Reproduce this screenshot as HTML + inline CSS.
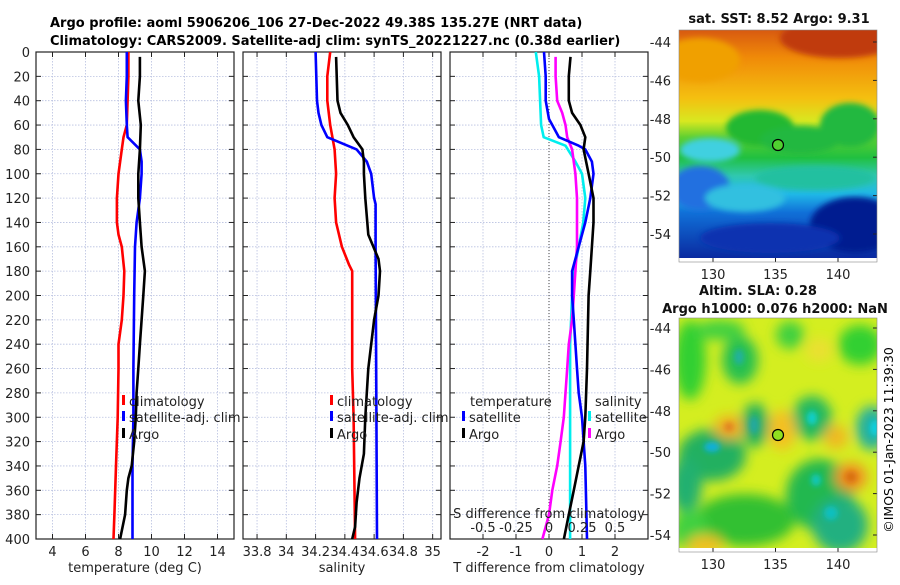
<!DOCTYPE html>
<html><head><meta charset="utf-8"><style>
body{margin:0;background:#fff;width:900px;height:580px;overflow:hidden}
svg{font-family:"DejaVu Sans","Liberation Sans",sans-serif}
</style></head><body>
<svg id="fig" width="900" height="580" xmlns="http://www.w3.org/2000/svg">
<defs>
<filter id="blur6" x="-50%" y="-50%" width="200%" height="200%"><feGaussianBlur stdDeviation="6"/></filter>
<filter id="blur3"><feGaussianBlur stdDeviation="3"/></filter>
<clipPath id="clipTop"><rect x="679" y="30" width="198" height="228"/></clipPath>
<clipPath id="clipBot"><rect x="679" y="318" width="198" height="230"/></clipPath>
<linearGradient id="sstGrad" x1="0" y1="0" x2="0" y2="1">
<stop offset="0" stop-color="#d85a10"/><stop offset="0.12" stop-color="#f08a08"/>
<stop offset="0.3" stop-color="#f4c010"/><stop offset="0.4" stop-color="#d8e820"/>
<stop offset="0.47" stop-color="#60d030"/><stop offset="0.56" stop-color="#20c040"/>
<stop offset="0.64" stop-color="#30c8b0"/><stop offset="0.72" stop-color="#20b8e8"/>
<stop offset="0.8" stop-color="#1070d8"/><stop offset="1" stop-color="#0a2aa0"/>
</linearGradient>
</defs>
<text x="50" y="27" font-size="13" font-weight="bold">Argo profile: aoml 5906206_106 27-Dec-2022 49.38S 135.27E (NRT data)</text>
<text x="50" y="45" font-size="13" font-weight="bold">Climatology: CARS2009. Satellite-adj clim: synTS_20221227.nc (0.38d earlier)</text>
<g id="plots"></g>
<g id="maps"></g>
<text transform="translate(893,440) rotate(-90)" text-anchor="middle" font-size="12.5">©IMOS 01-Jan-2023 11:39:30</text>
</svg>
<script>
// ---- data (depth in dbar) ----
const depthTicks = [0,20,40,60,80,100,120,140,160,180,200,220,240,260,280,300,320,340,360,380,400];
const tempTicks = [4,6,8,10,12,14];
const salTicks = [33.8,34,34.2,34.4,34.6,34.8,35];
const salTickLabels = ["33.8","34","34.2","34.4","34.6","34.8","35"];
const tdiffTicks = [-2,-1,0,1,2];
const sdiffTicks = [-0.5,-0.25,0,0.25,0.5];
const sdiffTickLabels = ["-0.5","-0.25","0","0.25","0.5"];

const tClimDepth = [0,20,40,60,70,80,100,120,140,150,160,180,200,220,240,260,300,340,380,400];
const tClimVal   = [8.6,8.6,8.55,8.5,8.3,8.2,8.0,7.9,7.9,8.0,8.2,8.35,8.3,8.2,8.0,8.0,7.95,7.85,7.75,7.7];
const tSatDepth = [0,20,40,60,70,80,90,100,120,140,160,200,260,300,340,400];
const tSatVal   = [8.5,8.5,8.45,8.5,8.55,9.3,9.4,9.4,9.3,9.1,9.0,8.95,8.9,8.9,8.85,8.85];
const tArgoDepth = [4,20,40,60,80,100,120,140,160,180,200,220,240,260,280,300,320,340,350,360,380,400];
const tArgoVal   = [9.3,9.3,9.2,9.35,9.3,9.2,9.2,9.3,9.4,9.6,9.5,9.4,9.3,9.2,9.1,9.05,8.95,8.8,8.6,8.5,8.4,8.1];

const sClimDepth = [0,20,40,60,80,100,120,140,160,175,180,220,260,300,400];
const sClimVal   = [34.3,34.28,34.28,34.3,34.33,34.34,34.33,34.34,34.38,34.43,34.45,34.45,34.45,34.46,34.47];
const sSatDepth = [0,40,50,60,70,80,90,100,120,125,160,400];
const sSatVal   = [34.2,34.21,34.22,34.24,34.28,34.48,34.55,34.58,34.6,34.61,34.61,34.62];
const sArgoDepth = [4,40,50,60,70,80,90,100,120,150,170,180,200,220,240,260,280,300,330,350,370,390,400];
const sArgoVal   = [34.34,34.35,34.37,34.42,34.46,34.52,34.53,34.53,34.54,34.56,34.63,34.64,34.63,34.6,34.58,34.56,34.55,34.54,34.53,34.5,34.48,34.47,34.45];

const dtSatDepth = [0,20,40,55,60,70,77,80,90,100,120,140,160,180,200,220,240,260,280,300,340,400];
const dtSatVal   = [-0.15,-0.1,-0.1,0,0.1,0.3,0.9,1.1,1.3,1.35,1.25,1.1,0.9,0.7,0.7,0.75,0.8,0.85,0.9,1.0,1.1,1.15];
const dtArgoDepth = [4,20,40,50,60,70,80,100,120,140,160,180,200,260,300,320,340,360,380,400];
const dtArgoVal   = [0.65,0.6,0.6,0.7,0.95,1.1,1.05,1.2,1.35,1.35,1.3,1.25,1.2,1.15,1.1,1.05,0.9,0.75,0.6,0.45];
const dsSatDepth = [0,20,60,70,77,90,100,120,140,160,180,200,240,400];
const dsSatVal   = [-0.1,-0.075,-0.06,-0.04,0.125,0.2,0.25,0.275,0.26,0.225,0.19,0.175,0.16,0.16];
const dsArgoDepth = [4,20,40,50,60,70,80,100,120,140,160,180,200,220,240,260,280,300,320,340,360,380,400];
const dsArgoVal   = [0.05,0.05,0.062,0.1,0.125,0.138,0.175,0.2,0.212,0.212,0.212,0.2,0.188,0.175,0.15,0.138,0.125,0.112,0.088,0.062,0.025,0,-0.05];

const NS="http://www.w3.org/2000/svg";
const plots=document.getElementById('plots');
function el(tag,attrs,parent,text){const e=document.createElementNS(NS,tag);for(const k in attrs)e.setAttribute(k,attrs[k]);if(text!==undefined)e.textContent=text;(parent||plots).appendChild(e);return e;}
const TOP=52,BOT=539;
const yD=d=>TOP+(d/400)*(BOT-TOP);

function panel(name,x0,x1,xmin,xmax,ticks,labels,xlabel,showDepth){
  const g=el('g',{});
  
  
  const xf=v=>x0+(v-xmin)/(xmax-xmin)*(x1-x0);
  depthTicks.forEach(d=>{
    const l=el('line',{x1:x0,x2:x1,y1:yD(d),y2:yD(d),stroke:'#b8c0e0','stroke-width':0.8,'stroke-dasharray':'1.5,1.5'},g);
    
    
    el('line',{x1:x0,x2:x0+5,y1:yD(d),y2:yD(d),stroke:'#222'},g);
    el('line',{x1:x1-5,x2:x1,y1:yD(d),y2:yD(d),stroke:'#222'},g);
    if(showDepth){const t=el('text',{x:30,y:yD(d)+5,'text-anchor':'end','font-size':13,fill:'#222'},g,String(d));
      
      }
  });
  ticks.forEach((v,i)=>{
    el('line',{x1:xf(v),x2:xf(v),y1:TOP,y2:BOT,stroke:'#b8c0e0','stroke-width':0.8,'stroke-dasharray':'1.5,1.5'},g);
    el('line',{x1:xf(v),x2:xf(v),y1:BOT-5,y2:BOT,stroke:'#222'},g);
    el('line',{x1:xf(v),x2:xf(v),y1:TOP,y2:TOP+5,stroke:'#222'},g);
    const t=el('text',{x:xf(v),y:BOT+17,'text-anchor':'middle','font-size':13,fill:'#222'},g,labels?labels[i]:String(v));
    
    
  });
  el('rect',{x:x0,y:TOP,width:x1-x0,height:BOT-TOP,fill:'none',stroke:'#222','stroke-width':1.2},g);
  const xt=el('text',{x:(x0+x1)/2,y:BOT+33,'text-anchor':'middle','font-size':13,fill:'#222'},g,xlabel);
  
  
  return {g,xf};
}
function line(p,depths,vals,color,name,scale){
  const pts=depths.map((d,i)=>p.xf(vals[i]*(scale||1)).toFixed(1)+','+yD(d).toFixed(1)).join(' ');
  const pl=el('polyline',{points:pts,fill:'none',stroke:color,'stroke-width':2.6,'stroke-linejoin':'round'},p.g);
  
  
}
function legItem(g,x,y,color,label,name){
  el('rect',{x:x,y:y-11,width:3,height:10,fill:color},g);
  const t=el('text',{x:x+7,y:y,'font-size':13,fill:'#222'},g,label);
  
  
}

const p1=panel('temperature',36,234,3,15,tempTicks,null,'temperature (deg C)',true);
line(p1,tClimDepth,tClimVal,'#f00','temp-climatology-line');
line(p1,tSatDepth,tSatVal,'#00f','temp-satellite-line');
line(p1,tArgoDepth,tArgoVal,'#000','temp-argo-line');
legItem(p1.g,122,406,'#f00','climatology','legend-climatology');
legItem(p1.g,122,422,'#00f','satellite-adj. clim','legend-satellite');
legItem(p1.g,122,439,'#000','Argo','legend-argo');

const p2=panel('salinity',243,441,33.704,35.057,salTicks,salTickLabels,'salinity',false);
line(p2,sClimDepth,sClimVal,'#f00','sal-climatology-line');
line(p2,sSatDepth,sSatVal,'#00f','sal-satellite-line');
line(p2,sArgoDepth,sArgoVal,'#000','sal-argo-line');
legItem(p2.g,330,406,'#f00','climatology','legend-climatology');
legItem(p2.g,330,422,'#00f','satellite-adj. clim','legend-satellite');
legItem(p2.g,330,439,'#000','Argo','legend-argo');

const p3=panel('difference',450,648,-3,3,tdiffTicks,null,'T difference from climatology',false);
el('line',{x1:p3.xf(0),x2:p3.xf(0),y1:TOP,y2:BOT,stroke:'#444','stroke-dasharray':'1,2'},p3.g);
line(p3,dsSatDepth,dsSatVal,'#0ee','sdiff-satellite-line',4);
line(p3,dsArgoDepth,dsArgoVal,'#f0f','sdiff-argo-line',4);
line(p3,dtSatDepth,dtSatVal,'#00f','tdiff-satellite-line');
line(p3,dtArgoDepth,dtArgoVal,'#000','tdiff-argo-line');
el('text',{x:470,y:406,'font-size':13,fill:'#222'},p3.g,'temperature');
legItem(p3.g,462,422,'#00f','satellite','legend-t-satellite');
legItem(p3.g,462,439,'#000','Argo','legend-t-argo');
el('text',{x:595,y:406,'font-size':13,fill:'#222'},p3.g,'salinity');
legItem(p3.g,588,422,'#0ee','satellite','legend-s-satellite');
legItem(p3.g,588,439,'#f0f','Argo','legend-s-argo');
const st=el('text',{x:549,y:518,'text-anchor':'middle','font-size':13,fill:'#222'},p3.g,'S difference from climatology');


sdiffTicks.forEach((v,i)=>{
  const t=el('text',{x:p3.xf(v*4),y:532,'text-anchor':'middle','font-size':13,fill:'#222'},p3.g,sdiffTickLabels[i]);
  
  
});

// ---- maps ----
const maps=document.getElementById('maps');
const latTicks=[-44,-46,-48,-50,-52,-54];
const lonTicks=[130,135,140];
const lonX=v=>713+(v-130)*12.5;
function mapAxes(name,x0,y0,w,h,latY,titleLines,labelY){
  const g=el('g',{},maps);
  
  
  latTicks.forEach(l=>{const y=latY(l);
    el('line',{x1:x0+w-4,x2:x0+w,y1:y,y2:y,stroke:'#222'},g);
    el('text',{x:x0-8,y:y+5,'text-anchor':'end','font-size':13,fill:'#222'},g,String(l));});
  lonTicks.forEach(v=>{
    el('line',{x1:lonX(v),x2:lonX(v),y1:y0+h-4,y2:y0+h,stroke:'#222'},g);
    el('text',{x:lonX(v),y:labelY,'text-anchor':'middle','font-size':13,fill:'#222'},g,String(v));});
  el('rect',{x:x0,y:y0,width:w,height:h,fill:'none',stroke:'#888','stroke-width':0.6},g);
  titleLines.forEach(t=>el('text',{x:t[1],y:t[2],'text-anchor':'middle','font-size':13,'font-weight':'bold',fill:'#111'},g,t[0]));
  return g;
}
// SST map
const gs=el('g',{'clip-path':'url(#clipTop)'},maps);


el('rect',{x:679,y:30,width:198,height:228,fill:'url(#sstGrad)'},gs);
const fb=el('g',{filter:'url(#blur3)'},gs);
[[840,38,60,20,'#c03a10'],[700,60,40,22,'#f0a000'],[760,128,34,18,'#20b830'],[850,125,30,22,'#20b840'],[800,140,40,14,'#20b840'],
 [710,150,30,12,'#40d0e0'],[815,178,60,12,'#20c0a0'],[700,188,30,22,'#2070e0'],[745,198,40,14,'#30c0e0'],[855,225,45,28,'#001c90'],[770,238,70,15,'#0830b0']]
 .forEach(b=>el('ellipse',{cx:b[0],cy:b[1],rx:b[2],ry:b[3],fill:b[4]},fb));
el('rect',{x:679,y:258,width:198,height:4,fill:'#fff'},maps);
el('circle',{cx:778,cy:145,r:5.5,fill:'#50d030',stroke:'#000','stroke-width':1.2},maps);
mapAxes('sst-map',679,30,198,232,l=>42+(-44-l)*19.2,[['sat. SST: 8.52 Argo: 9.31',779,23]],279);

// SLA map
const gb=el('g',{'clip-path':'url(#clipBot)'},maps);


el('rect',{x:679,y:318,width:198,height:232,fill:'#d4ee20'},gb);
const fb2=el('g',{filter:'url(#blur6)'},gb);
[[690,360,16,40,'#30d030'],[790,335,14,14,'#40d040'],[860,345,22,20,'#30d030'],[740,360,18,24,'#28c050'],[720,330,25,10,'#40d040'],
 [755,425,14,22,'#20b060'],[812,418,20,22,'#20b860'],[872,428,16,22,'#20b0a0'],[712,455,34,26,'#20b060'],
 [686,485,16,28,'#20b070'],[820,495,34,36,'#20b850'],[745,520,50,26,'#30c030'],[840,525,28,28,'#20b080'],[690,530,18,20,'#40d040'],
 [729,427,15,12,'#f0b020'],[782,430,14,20,'#f4c020'],[851,477,16,14,'#f09020'],[836,437,12,12,'#f0b820'],
 [819,350,14,12,'#eae030'],[705,545,18,10,'#f0c020']].forEach(b=>el('ellipse',{cx:b[0],cy:b[1],rx:b[2],ry:b[3],fill:b[4]},fb2));
const fb3=el('g',{filter:'url(#blur3)'},gb);
[[739,357,5,8,'#20b0a0'],[754,425,5,9,'#20a8a0'],[812,418,5,7,'#10d0d0'],[875,428,5,8,'#10d0e0'],[712,447,8,5,'#10b0e0'],
 [816,480,5,6,'#10c8c0'],[831,513,7,7,'#10c0c0'],[729,427,5,5,'#e08020'],[851,477,6,6,'#d87010']]
 .forEach(b=>el('ellipse',{cx:b[0],cy:b[1],rx:b[2],ry:b[3],fill:b[4]},fb3));
el('rect',{x:679,y:548,width:198,height:4,fill:'#fff'},maps);
el('circle',{cx:778,cy:435,r:5.5,fill:'#90e020',stroke:'#000','stroke-width':1.2},maps);
mapAxes('sla-map',679,318,198,234,l=>328+(-44-l)*20.7,[['Altim. SLA: 0.28',758,295],['Argo h1000: 0.076 h2000: NaN',775,313]],569);
</script>
</body></html>
